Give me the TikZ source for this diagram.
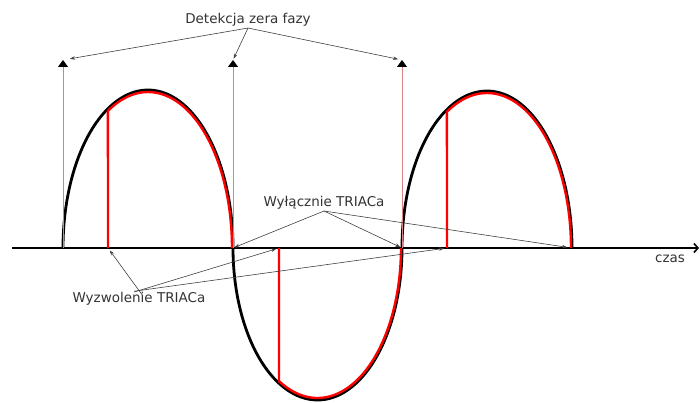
\documentclass[tikz,border=0pt]{standalone}
\usepackage{fontspec}
\setmainfont{DejaVu Sans}
\usetikzlibrary{arrows.meta}
\definecolor{zeroline}{RGB}{215,130,130}
\definecolor{notecol}{RGB}{64,64,64}

\begin{document}
\begin{tikzpicture}[x=1pt,y=-1pt,
    label/.style={text=black!80,font=\fontsize{13.5}{16}\selectfont,inner sep=1pt},
    pointer/.style={notecol,line width=0.6pt,-{Stealth[length=5pt,width=3.5pt]}},
    marker/.style={zeroline,line width=0.8pt,-{Triangle[color=black,length=7pt,width=10pt]}}]
    \useasboundingbox (0,0) rectangle (700,403);
    % punkty na osi
    \coordinate (z1) at (63,248);
    \coordinate (z2) at (233,248);
    \coordinate (z3) at (402,248);
    \coordinate (z4) at (572,248);
    \coordinate (t1) at (108,248);
    \coordinate (t2) at (279,248);
    \coordinate (t3) at (447,248);
    \coordinate (m1) at (63,60);
    \coordinate (m2) at (233,60);
    \coordinate (m3) at (402,60);
    % os czasu
    \draw[line width=1.6pt,-{Straight Barb[length=4pt,width=9pt]}] (12,248) -- (699,248);
    \node[label] (czas) at (670,259) {czas};
    % napiecie sieci
    \draw[line width=2.8pt] plot[smooth,variable=\t,domain=180:0,samples=60] ({148+85*cos(\t)},{248-158*sin(\t)})
        -- plot[smooth,variable=\t,domain=180:0,samples=60] ({317.5+84.5*cos(\t)},{248+152*sin(\t)})
        -- plot[smooth,variable=\t,domain=180:0,samples=60] ({487+85*cos(\t)},{248-157*sin(\t)});
    % napiecie na odbiorniku
    \draw[red,line width=2.4pt] (t1) -- plot[smooth,variable=\t,domain=118.5:0,samples=50] ({148+84*cos(\t)},{248-156*sin(\t)});
    \draw[red,line width=2.4pt] (t2) -- plot[smooth,variable=\t,domain=117.5:0,samples=50] ({317.5+83.5*cos(\t)},{248+150*sin(\t)});
    \draw[red,line width=2.4pt] (t3) -- plot[smooth,variable=\t,domain=118.5:0,samples=50] ({487+84*cos(\t)},{248-155*sin(\t)});
    % detekcja zera
    \draw[marker] (z1) -- (m1);
    \draw[marker] (z2) -- (m2);
    \draw[marker] (z3) -- (m3);
    % opisy
    \node[label,anchor=base] (detekcja) at (248,24) {Detekcja zera fazy};
    \node[label,anchor=base] (wylacznie) at (324,207) {Wyłącznie TRIACa};
    \node[label,anchor=base] (wyzwolenie) at (139,302) {Wyzwolenie TRIACa};
    \draw[pointer,shorten >=7pt] (detekcja.south) -- (m1);
    \draw[pointer,shorten >=1.5pt] (detekcja.south) -- (m2);
    \draw[pointer,shorten >=4pt] (detekcja.south) -- (m3);
    \draw[pointer,shorten >=1.5pt] (wylacznie.south) -- (z2);
    \draw[pointer,shorten >=2pt] (wylacznie.south) -- (z3);
    \draw[pointer,shorten >=5pt] (wylacznie.south) -- (z4);
    \draw[pointer,shorten >=3pt,shorten <=-5pt] (wyzwolenie.north) -- (t1);
    \draw[pointer,shorten >=3pt,shorten <=-5pt] (wyzwolenie.north) -- (t2);
    \draw[pointer,shorten >=3pt,shorten <=-5pt] (wyzwolenie.north) -- (t3);
\end{tikzpicture}
\end{document}
